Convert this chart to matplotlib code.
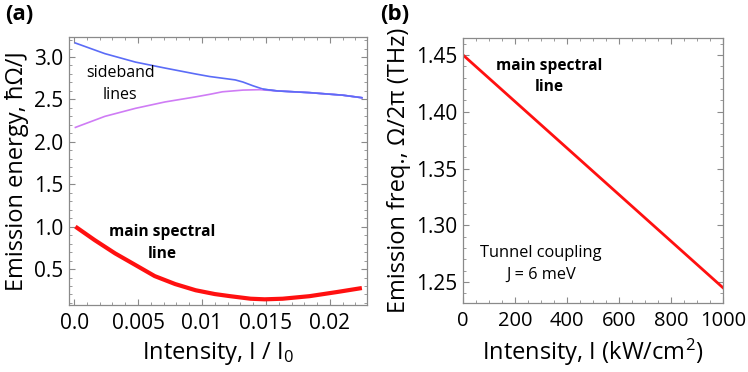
import matplotlib
matplotlib.use("Agg")
import matplotlib.pyplot as plt
from matplotlib.ticker import MultipleLocator, FixedLocator
import numpy as np

plt.rcParams['font.family'] = ['Open Sans', 'DejaVu Sans']
plt.rcParams['mathtext.fontset'] = 'custom'
plt.rcParams['mathtext.rm'] = 'Open Sans'
plt.rcParams['mathtext.it'] = 'Open Sans:italic'

# ---- Panel (a) data ----
blue_x = [0.0001, 0.0024, 0.0048, 0.0071, 0.0095, 0.0106, 0.0116, 0.0126, 0.0132,
          0.0140, 0.0148, 0.0159, 0.0184, 0.0210, 0.0225]
blue_y = [3.165, 3.04, 2.94, 2.87, 2.80, 2.77, 2.75, 2.73, 2.705,
          2.66, 2.62, 2.60, 2.58, 2.55, 2.52]

purple_x = [0.0001, 0.0024, 0.0048, 0.0071, 0.0095, 0.0106, 0.0116, 0.0132, 0.0145,
            0.0159, 0.0184, 0.0210, 0.0225]
purple_y = [2.17, 2.30, 2.395, 2.47, 2.53, 2.56, 2.59, 2.61, 2.615,
            2.60, 2.58, 2.55, 2.52]

red_a_x = [0.0001, 0.0016, 0.0032, 0.0048, 0.0063, 0.0079, 0.0095, 0.0110, 0.0122,
           0.0138, 0.0149, 0.0163, 0.0184, 0.0206, 0.0225]
red_a_y = [1.00, 0.842, 0.685, 0.547, 0.417, 0.323, 0.25, 0.205, 0.18,
           0.15, 0.143, 0.15, 0.18, 0.23, 0.276]

# ---- Panel (b) data ----
red_b_x = [0, 1000]
red_b_y = [1.45, 1.245]

frame_col = '#8a8a8a'

fig = plt.figure(figsize=(7.48, 3.72), dpi=100)
axA = fig.add_axes([69/748, 1-305/372, (367-69)/748, (305-37)/372])
axB = fig.add_axes([463/748, 1-302.5/372, (723-463)/748, (302.5-38.3)/372])

def style(ax):
    for s in ax.spines.values():
        s.set_color(frame_col)
        s.set_linewidth(0.9)
    ax.tick_params(which='both', direction='in', top=True, right=True,
                   color=frame_col, labelsize=15)
    ax.tick_params(axis='x', which='major', pad=6)
    ax.tick_params(axis='y', which='major', pad=4)
    ax.tick_params(which='major', length=4, width=0.8)
    ax.tick_params(which='minor', length=2, width=0.6)

axA.plot(blue_x, blue_y, color='#5b6cf7', lw=1.2)
axA.plot(purple_x, purple_y, color='#cf7cf5', lw=1.2)
axA.plot(blue_x[-5:], blue_y[-5:], color='#5b6cf7', lw=1.2)
axA.plot(red_a_x, red_a_y, color='#ff1010', lw=3.0, solid_capstyle='butt')
axA.set_xlim(-0.0004, 0.0229)
axA.set_ylim(0.076, 3.236)
axA.xaxis.set_major_locator(FixedLocator([0.0, 0.005, 0.01, 0.015, 0.02]))
axA.set_xticklabels(['0.0', '0.005', '0.01', '0.015', '0.02'])
axA.xaxis.set_minor_locator(MultipleLocator(0.001))
axA.yaxis.set_major_locator(FixedLocator([0.5, 1.0, 1.5, 2.0, 2.5, 3.0]))
axA.set_yticklabels(['0.5', '1.0', '1.5', '2.0', '2.5', '3.0'])
axA.yaxis.set_minor_locator(MultipleLocator(0.1))
style(axA)
axA.set_xlabel('Intensity, I / I$_0$', fontsize=17, labelpad=4)
axA.set_ylabel('Emission energy, ħΩ/J', fontsize=17, labelpad=4)
axA.text(0.0036, 2.68, 'sideband\nlines', ha='center', va='center', fontsize=11.5,
         linespacing=1.45)
axA.text(0.0069, 0.807, 'main spectral\nline', ha='center', va='center', fontsize=11.2,
         fontweight='bold', linespacing=1.45)

axB.plot(red_b_x, red_b_y, color='#ff1010', lw=2.0)
axB.set_xlim(0, 1000)
axB.set_ylim(1.232, 1.4647)
axB.xaxis.set_major_locator(MultipleLocator(200))
axB.xaxis.set_minor_locator(MultipleLocator(50))
axB.yaxis.set_major_locator(FixedLocator([1.25, 1.30, 1.35, 1.40, 1.45]))
axB.set_yticklabels(['1.25', '1.30', '1.35', '1.40', '1.45'])
axB.yaxis.set_minor_locator(MultipleLocator(0.01))
style(axB)
axB.tick_params(axis='x', labelsize=14.5)
axB.set_xlabel('Intensity, I (kW/cm$^2$)', fontsize=17, labelpad=4)
axB.set_ylabel('Emission freq., Ω/2π (THz)', fontsize=17, labelpad=4)
axB.text(331, 1.431, 'main spectral\nline', ha='center', va='center', fontsize=11.2,
         fontweight='bold', linespacing=1.45)
axB.text(300, 1.266, 'Tunnel coupling\nJ = 6 meV', ha='center', va='center', fontsize=11.8,
         linespacing=1.45)

fig.text(5/748, 1-15/372, '(a)', fontsize=16, fontweight='bold', ha='left', va='center')
fig.text(380/748, 1-15/372, '(b)', fontsize=16, fontweight='bold', ha='left', va='center')

fig.savefig('out.png', dpi=100)
